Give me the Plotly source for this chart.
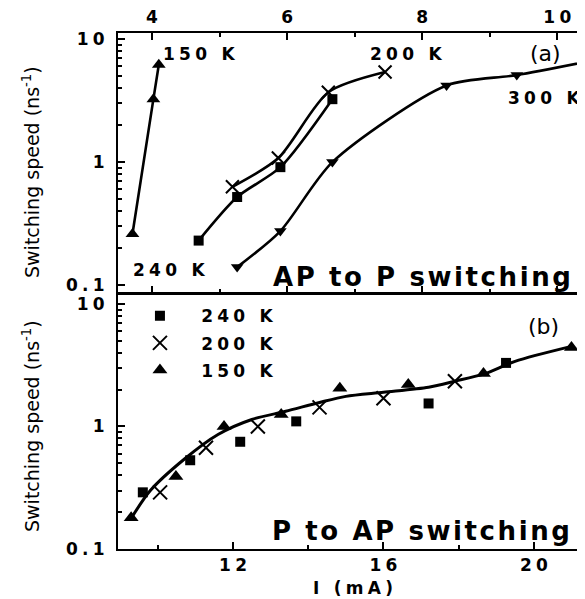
import plotly.graph_objects as go

# ---------------- data ----------------
# (a) AP -> P switching  (top panel, top x-axis, I in mA)
ap150_x = [3.71, 4.02, 4.10]
ap150_y = [0.26, 3.25, 6.2]
ap240_x = [4.69, 5.26, 5.90, 6.67]
ap240_y = [0.23, 0.52, 0.91, 3.25]
ap200_x = [5.19, 5.87, 6.61, 7.45]
ap200_y = [0.63, 1.08, 3.7, 5.4]
ap300_x = [5.26, 5.90, 6.67, 8.36, 9.40, 10.7]
ap300_y = [0.14, 0.275, 1.0, 4.2, 5.1, 7.0]

# (b) P -> AP switching (bottom panel)
pa240_x = [9.60, 10.86, 12.19, 13.68, 17.2, 19.26]
pa240_y = [0.29, 0.53, 0.75, 1.10, 1.54, 3.3]
pa200_x = [10.06, 11.28, 12.66, 14.30, 16.0, 17.9]
pa200_y = [0.29, 0.67, 1.00, 1.43, 1.70, 2.34]
pa150_x = [9.29, 10.48, 11.76, 13.28, 14.84, 16.66, 18.66, 21.0]
pa150_y = [0.18, 0.39, 1.00, 1.25, 2.05, 2.20, 2.70, 4.4]
fit_x = [9.3, 9.8, 10.7, 11.6, 12.5, 13.4, 14.3, 15.0, 16.0, 17.2, 17.9, 18.7, 19.5, 21.0]
fit_y = [0.18, 0.30, 0.54, 0.86, 1.14, 1.33, 1.57, 1.76, 1.90, 2.09, 2.34, 2.70, 3.40, 4.5]

top_xticks = [4, 6, 8, 10]
top_xminor = [5, 7, 9]
bot_xticks = [12, 16, 20]
bot_xminor = [10, 14, 18]
y_ticks = [0.1, 1, 10]
y_minor = [0.2, 0.3, 0.4, 0.5, 0.6, 0.7, 0.8, 0.9, 2, 3, 4, 5, 6, 7, 8, 9]

labels_top = ["150 K", "200 K", "300 K", "240 K"]
legend_names = ["240 K", "200 K", "150 K"]

# ---------------- styling helpers ----------------
SP = "\u2005"   # four-per-em space used as letter spacing
HS = "\u200a"   # hair space


def sp(s, sep=SP):
    return sep.join(list(s))


BOLD = dict(family="DejaVu Sans", size=17, color="black", weight="bold")
LW = 2.6
SM = 0.75

fig = go.Figure()

# top panel traces (xaxis2 / yaxis2)
fig.add_trace(go.Scatter(x=ap150_x, y=ap150_y, mode="lines+markers", xaxis="x2", yaxis="y2",
                         line=dict(color="black", width=LW, shape="spline", smoothing=SM),
                         marker=dict(symbol="triangle-up", size=12, color="black"), showlegend=False))
fig.add_trace(go.Scatter(x=ap240_x, y=ap240_y, mode="lines+markers", xaxis="x2", yaxis="y2",
                         line=dict(color="black", width=LW, shape="spline", smoothing=SM),
                         marker=dict(symbol="square", size=10, color="black"), showlegend=False))
fig.add_trace(go.Scatter(x=ap200_x, y=ap200_y, mode="lines+markers", xaxis="x2", yaxis="y2",
                         line=dict(color="black", width=LW, shape="spline", smoothing=SM),
                         marker=dict(symbol="x-thin", size=13, color="black",
                                     line=dict(color="black", width=2)), showlegend=False))
fig.add_trace(go.Scatter(x=ap300_x, y=ap300_y, mode="lines+markers", xaxis="x2", yaxis="y2",
                         line=dict(color="black", width=LW, shape="spline", smoothing=SM),
                         marker=dict(symbol="triangle-down", size=11, color="black"), showlegend=False))

# bottom panel
fig.add_trace(go.Scatter(x=fit_x, y=fit_y, mode="lines", xaxis="x", yaxis="y",
                         line=dict(color="black", width=3, shape="spline", smoothing=0.8),
                         showlegend=False))
fig.add_trace(go.Scatter(x=pa240_x, y=pa240_y, mode="markers", xaxis="x", yaxis="y",
                         name="\u2003\u2005" + sp(legend_names[0]), legendgroup="a",
                         marker=dict(symbol="square", size=10, color="black")))
fig.add_trace(go.Scatter(x=pa200_x, y=pa200_y, mode="markers", xaxis="x", yaxis="y",
                         name="\u2003\u2005" + sp(legend_names[1]), legendgroup="b",
                         marker=dict(symbol="x-thin", size=14, color="black",
                                     line=dict(color="black", width=2))))
fig.add_trace(go.Scatter(x=pa150_x, y=pa150_y, mode="markers", xaxis="x", yaxis="y",
                         name="\u2003\u2005" + sp(legend_names[2]), legendgroup="c",
                         marker=dict(symbol="triangle-up", size=13, color="black")))

axis_common = dict(showline=True, linecolor="black", linewidth=2, ticks="inside",
                   tickcolor="black", tickwidth=1.5, ticklen=7, showgrid=False, zeroline=False,
                   tickfont=BOLD)

# the page body adds an 8 px offset, so the figure is 8 px smaller than the window
fig.update_layout(
    width=577, height=591,
    margin=dict(l=110, r=0, t=25, b=50),
    paper_bgcolor="white", plot_bgcolor="white",
    xaxis=dict(domain=[0, 1], range=[8.94, 21.36], anchor="y", mirror=True,
               tickmode="array", tickvals=bot_xticks, ticktext=[sp(str(v)) for v in bot_xticks],
               minor=dict(tickmode="array", tickvals=bot_xminor, ticks="inside", ticklen=4,
                          tickcolor="black", tickwidth=1.5),
               ticklabelstandoff=0, **axis_common),
    yaxis=dict(domain=[0, 0.494], type="log", range=[-1.0, 1.08], anchor="x",
               tickmode="array", tickvals=y_ticks, ticktext=[sp(str(v)) for v in y_ticks],
               minor=dict(tickmode="array", tickvals=y_minor, ticks="inside", ticklen=4,
                          tickcolor="black", tickwidth=1.5),
               ticklabelstandoff=8, **axis_common),
    xaxis2=dict(domain=[0, 1], range=[3.496, 10.41], anchor="y2", side="top", mirror="allticks",
                tickmode="array", tickvals=top_xticks, ticktext=[sp(str(v)) for v in top_xticks],
                minor=dict(tickmode="array", tickvals=top_xminor, ticks="inside", ticklen=4,
                           tickcolor="black", tickwidth=1.5),
                ticklabelstandoff=1, **axis_common),
    yaxis2=dict(domain=[0.496, 1], type="log", range=[-1.065, 1.05], anchor="x2",
                tickmode="array", tickvals=y_ticks, ticktext=[sp(str(v)) for v in y_ticks],
                minor=dict(tickmode="array", tickvals=y_minor, ticks="inside", ticklen=4,
                           tickcolor="black", tickwidth=1.5),
                ticklabelstandoff=8, **axis_common),
    legend=dict(x=0.047, y=0.486, xanchor="left", yanchor="top", font=BOLD,
                bgcolor="rgba(0,0,0,0)", tracegroupgap=2, itemwidth=30),
    showlegend=True,
)


def px_x(px):
    return (px - 118) / 467


def px_y(py):
    return (549 - py) / 516


ann = []
ann.append(dict(text=sp(labels_top[0]), x=px_x(199), y=px_y(54), font=BOLD))
ann.append(dict(text=sp(labels_top[1]), x=px_x(406), y=px_y(54), font=BOLD))
ann.append(dict(text=sp(labels_top[2]), x=px_x(544), y=px_y(98), font=BOLD))
ann.append(dict(text=sp(labels_top[3]), x=px_x(169), y=px_y(270), font=BOLD))
ann.append(dict(text="(a)", x=px_x(545), y=px_y(54),
                font=dict(family="DejaVu Sans", size=22, color="black")))
ann.append(dict(text="(b)", x=px_x(543), y=px_y(326),
                font=dict(family="DejaVu Sans", size=22, color="black")))
ann.append(dict(text=sp("AP to P switching", HS), x=px_x(422), y=px_y(277),
                font=dict(family="DejaVu Sans", size=26, color="black", weight="bold")))
ann.append(dict(text=sp("P to AP switching", HS), x=px_x(421), y=px_y(531),
                font=dict(family="DejaVu Sans", size=26, color="black", weight="bold")))
ann.append(dict(text=sp("I (mA)"), x=px_x(353), y=px_y(588), font=BOLD))
ytitle = "Switching speed (ns<sup>-1</sup>)"
ann.append(dict(text=ytitle, x=px_x(31), y=px_y(172), textangle=-90,
                font=dict(family="DejaVu Sans", size=19, color="black")))
ann.append(dict(text=ytitle, x=px_x(31), y=px_y(426), textangle=-90,
                font=dict(family="DejaVu Sans", size=19, color="black")))

for a in ann:
    a.update(xref="paper", yref="paper", showarrow=False, xanchor="center", yanchor="middle")
fig.update_layout(annotations=ann)

fig.write_html("out.html")
